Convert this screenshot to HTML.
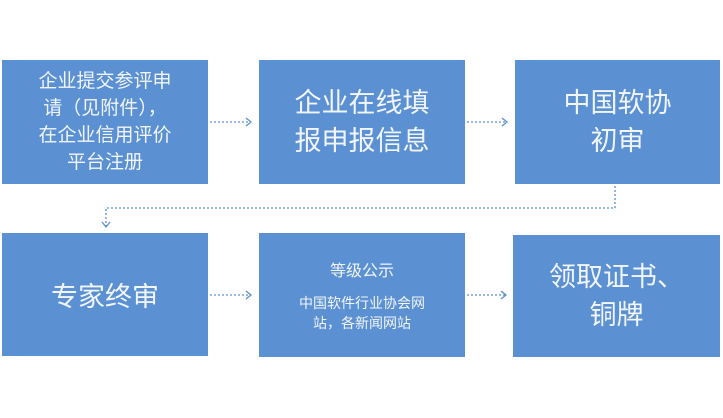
<!DOCTYPE html>
<html><head><meta charset="utf-8"><style>
body{margin:0;width:723px;height:418px;background:#fff;position:relative;overflow:hidden;font-family:"Liberation Sans","Noto Sans CJK SC",sans-serif;}
.b{position:absolute;background:#5b90d2;color:#f2f6fb;display:flex;flex-direction:column;align-items:center;justify-content:center;text-align:center;}
</style></head><body>
<div class="b" style="left:2px;top:60px;width:206px;height:124px;font-size:19px;line-height:27px;">企业提交参评申<br>请（见附件），<br>在企业信用评价<br>平台注册</div>
<div class="b" style="left:259px;top:60px;width:206px;height:124px;font-size:27px;line-height:38px;">企业在线填<br>报申报信息</div>
<div class="b" style="left:515px;top:60px;width:205px;height:124px;font-size:27px;line-height:38px;">中国软协<br>初审</div>
<div class="b" style="left:2px;top:233px;width:206px;height:123px;font-size:27px;">专家终审</div>
<div class="b" style="left:259px;top:233px;width:206px;height:124px;"><div style="font-size:16px;margin-bottom:12px;">等级公示</div><div style="font-size:14px;line-height:20px;">中国软件行业协会网<br>站，各新闻网站</div></div>
<div class="b" style="left:513px;top:235px;width:207px;height:122px;font-size:27px;line-height:38px;">领取证书、<br>铜牌</div>
<svg width="723" height="418" style="position:absolute;left:0;top:0" fill="none" stroke="#5b90d2" stroke-width="1.3">
<g stroke-dasharray="2,2">
<path d="M210 122H250"/><path d="M467 122H506"/>
<path d="M615 186V208H106V226"/>
<path d="M210 295H250"/><path d="M467 295H505"/>
</g>
<path d="M246 118l5 4-5 4M502 118l5 4-5 4M102 222l4 5 4-5M246 291l5 4-5 4M501 291l5 4-5 4"/>
</svg>
</body></html>
